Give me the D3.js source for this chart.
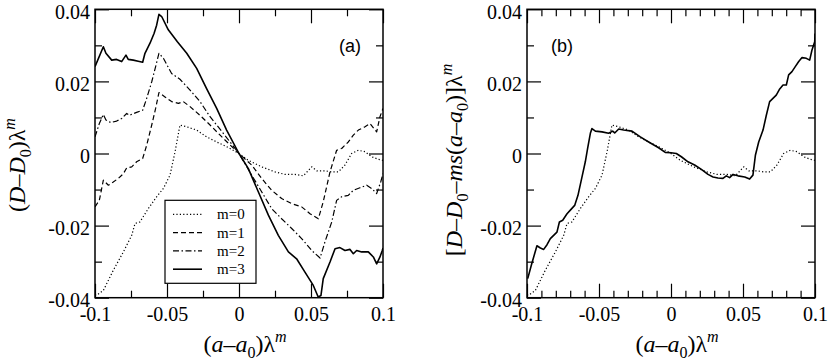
<!DOCTYPE html>
<html>
<head>
<meta charset="utf-8">
<script src="https://cdn.jsdelivr.net/npm/d3@7/dist/d3.min.js"></script>
<style>
body { margin: 0; background: #fff; }
svg { display: block; }
.tick text { font-family: "Liberation Serif", "Times New Roman", serif; font-size: 20px; fill: #000; }
.lbl { font-family: "Liberation Serif", "Times New Roman", serif; font-size: 24px; fill: #000; }
</style>
</head>
<body>
<svg id="fig" width="830" height="363"></svg>
<script>
// tick values
const xTicks = [-0.1, -0.05, 0, 0.05, 0.1]
const yTicks = [-0.04, -0.02, 0, 0.02, 0.04]
const legendNames = ['m=0', 'm=1', 'm=2', 'm=3']

// m=0 (dotted) - same curve in both panels
const m0 = [[-0.1,-0.0392],[-0.0988,-0.0393],[-0.0942,-0.038],[-0.0873,-0.0324],[-0.0803,-0.0273],[-0.0745,-0.0227],
  [-0.0722,-0.0194],[-0.0688,-0.019],[-0.063,-0.0153],[-0.0572,-0.012],[-0.0525,-0.0097],[-0.0479,-0.006],
  [-0.0444,0.0005],[-0.041,0.0079],[-0.0363,0.0074],[-0.0294,0.0065],[-0.0225,0.0046],[-0.0155,0.0032],
  [-0.0086,0.0019],[0,0],[0.0065,-0.0019],[0.0157,-0.0037],[0.025,-0.0051],[0.0319,-0.0058],[0.0389,-0.0058],
  [0.0447,-0.0062],[0.0505,-0.0037],[0.054,-0.0048],[0.0597,-0.0048],[0.0644,-0.0051],[0.069,-0.0051],
  [0.0736,-0.0032],[0.0782,0],[0.0829,0.0009],[0.0875,0.0005],[0.0921,-0.0009],[0.0967,-0.0016],[0.1,-0.0019]]

// m=1 (dashed)
const m1 = [[-0.1,-0.0148],[-0.097,-0.013],[-0.0942,-0.0074],[-0.0907,-0.0088],[-0.0873,-0.0079],[-0.0838,-0.0069],
  [-0.0803,-0.0056],[-0.078,-0.004],[-0.0745,-0.0037],[-0.0711,-0.0023],[-0.0669,-0.0014],[-0.0641,0.0023],
  [-0.0606,0.0079],[-0.0579,0.0125],[-0.0556,0.0169],[-0.0514,0.0157],[-0.0468,0.0144],[-0.0421,0.0139],
  [-0.0387,0.0144],[-0.034,0.013],[-0.0271,0.0106],[-0.0201,0.0079],[-0.0109,0.0042],[0,0],
  [0.0088,-0.0032],[0.0157,-0.0069],[0.0227,-0.0102],[0.0296,-0.0125],[0.0366,-0.0139],[0.0435,-0.0148],
  [0.0493,-0.0167],[0.0551,-0.0181],[0.0585,-0.0134],[0.0632,-0.0051],[0.0678,0.0009],[0.0713,0.0014],
  [0.0759,0.0032],[0.0794,0.0051],[0.0829,0.0065],[0.0875,0.0074],[0.091,0.0083],[0.094,0.0068],
  [0.0956,0.006],[0.0979,0.0102],[0.1,0.0125]]

// m=2 (dash-dot)
const m2 = [[-0.1,0.0046],[-0.097,0.0083],[-0.0942,0.0108],[-0.0924,0.0093],[-0.0891,0.0086],[-0.085,0.009],
  [-0.0815,0.0097],[-0.078,0.0111],[-0.0762,0.0106],[-0.0711,0.0114],[-0.0669,0.012],[-0.0641,0.0153],
  [-0.0606,0.0199],[-0.0579,0.0241],[-0.0556,0.0278],[-0.0525,0.0264],[-0.0468,0.0222],[-0.041,0.0206],
  [-0.034,0.0176],[-0.0271,0.0144],[-0.0201,0.0102],[-0.0109,0.0056],[0,0],[0.0088,-0.006],[0.0157,-0.0106],
  [0.0227,-0.0153],[0.0296,-0.0181],[0.0366,-0.0208],[0.0435,-0.0236],[0.0505,-0.0269],[0.0563,-0.029],
  [0.0597,-0.0245],[0.0644,-0.019],[0.0678,-0.013],[0.0713,-0.012],[0.0759,-0.0116],[0.0794,-0.0102],
  [0.084,-0.0095],[0.0887,-0.0088],[0.0921,-0.0097],[0.0956,-0.0111],[0.0984,-0.0079],[0.1,-0.0056]]

// m=3 (solid)
const m3 = [[-0.1,0.0241],[-0.0942,0.0296],[-0.0924,0.0278],[-0.0884,0.0259],[-0.085,0.0261],[-0.0815,0.0255],
  [-0.0785,0.0273],[-0.0769,0.0261],[-0.0734,0.0259],[-0.07,0.0256],[-0.0669,0.0253],[-0.0653,0.0278],
  [-0.0618,0.0306],[-0.059,0.0333],[-0.0572,0.0356],[-0.0556,0.0386],[-0.0537,0.038],[-0.0491,0.0343],
  [-0.0428,0.031],[-0.0363,0.0278],[-0.0294,0.0236],[-0.0225,0.018],[-0.0155,0.0125],[-0.0086,0.0065],
  [0,0],[0.0065,-0.0042],[0.0134,-0.0106],[0.0204,-0.0171],[0.0273,-0.0227],[0.0343,-0.0273],[0.04,-0.0292],
  [0.0458,-0.0329],[0.0516,-0.0366],[0.055,-0.0398],[0.0569,-0.0394],[0.0585,-0.0347],[0.0632,-0.0301],
  [0.0667,-0.0264],[0.0701,-0.0261],[0.0736,-0.0269],[0.0771,-0.0266],[0.0794,-0.0278],[0.0817,-0.0269],
  [0.0852,-0.0273],[0.0898,-0.0273],[0.0933,-0.0287],[0.0956,-0.0306],[0.0979,-0.0287],[0.0995,-0.0269],[0.1,-0.0262]]

// m=3 with the linear part removed (panel b, solid)
const m3b = [[-0.0995,-0.0347],[-0.097,-0.031],[-0.0947,-0.0278],[-0.0931,-0.0256],[-0.0907,-0.0262],[-0.0884,-0.0266],
  [-0.0861,-0.0253],[-0.0838,-0.0236],[-0.0815,-0.0227],[-0.0792,-0.0218],[-0.0775,-0.019],[-0.0752,-0.0185],
  [-0.0722,-0.0167],[-0.0699,-0.0157],[-0.0669,-0.0144],[-0.0646,-0.0116],[-0.0618,-0.0065],[-0.0595,-0.0023],
  [-0.0579,0.0014],[-0.056,0.0056],[-0.0549,0.0069],[-0.0525,0.0062],[-0.0479,0.006],[-0.0433,0.0056],
  [-0.0405,0.0062],[-0.0391,0.0057],[-0.0363,0.0068],[-0.0329,0.0065],[-0.0271,0.0062],[-0.0213,0.0046],
  [-0.0155,0.0032],[-0.0086,0.0016],[-0.004,0.0003],[0,0.0002],[0.0037,0],[0.0072,-0.0009],[0.0118,-0.0023],
  [0.0164,-0.0032],[0.0211,-0.0044],[0.0257,-0.0058],[0.0292,-0.0065],[0.0326,-0.0068],[0.0361,-0.0069],
  [0.0384,-0.0062],[0.0407,-0.0067],[0.0431,-0.0058],[0.0465,-0.0062],[0.0512,-0.0065],[0.0546,-0.0071],
  [0.0569,-0.006],[0.0586,-0.0005],[0.0609,0.0032],[0.0639,0.0065],[0.0662,0.0106],[0.0685,0.0144],
  [0.0708,0.0153],[0.0731,0.0162],[0.0755,0.0179],[0.0778,0.019],[0.0801,0.019],[0.0817,0.0218],
  [0.084,0.0227],[0.0863,0.0241],[0.0887,0.0255],[0.091,0.0266],[0.094,0.0264],[0.0963,0.0259],
  [0.0979,0.0287],[0.0998,0.031],[0.1,0.0333]]

const styles = {
	m0: { dash: '1.2,2.2', w: 1.2 },
	m1: { dash: '5,3', w: 1.2 },
	m2: { dash: '6,2.5,1.5,2.5', w: 1.2 },
	m3: { dash: null, w: 1.6 }
}

const svg = d3.select('#fig')
const W = 288, H = 288.4, T = 9.3

let fmt = d => d === 0 ? '0' : String(d)

function drawPanel(left, series, minorX, tag, tagX) {
	let x = d3.scaleLinear().domain([-0.1, 0.1]).range([0, W])
	let y = d3.scaleLinear().domain([-0.04, 0.04]).range([H, 0])
	let g = svg.append('g').attr('transform', `translate(${left},${T})`)

	g.append('clipPath').attr('id', 'clip' + tag)
		.append('rect').attr('width', W).attr('height', H)

	// minor ticks, all four sides
	let yMinor = [-0.03, -0.01, 0.01, 0.03]
	g.append('g').attr('transform', `translate(0,${H})`)
		.call(d3.axisBottom(x).tickValues(minorX).tickSize(-7).tickFormat(''))
	g.append('g').call(d3.axisTop(x).tickValues(minorX).tickSize(-7).tickFormat(''))
	g.append('g').call(d3.axisLeft(y).tickValues(yMinor).tickSize(-7).tickFormat(''))
	g.append('g').attr('transform', `translate(${W},0)`)
		.call(d3.axisRight(y).tickValues(yMinor).tickSize(-7).tickFormat(''))

	// major ticks with labels
	g.append('g').attr('transform', `translate(0,${H})`)
		.call(d3.axisBottom(x).tickValues(xTicks).tickSize(-14).tickPadding(9).tickFormat(fmt))
	g.append('g').call(d3.axisTop(x).tickValues(xTicks).tickSize(-14).tickFormat(''))
	g.append('g').call(d3.axisLeft(y).tickValues(yTicks).tickSize(-14).tickPadding(5).tickFormat(fmt))
		.selectAll('text').attr('dy', '0.45em')
	g.append('g').attr('transform', `translate(${W},0)`)
		.call(d3.axisRight(y).tickValues(yTicks).tickSize(-14).tickFormat(''))

	g.selectAll('.domain').remove()
	g.selectAll('.tick line').attr('stroke', '#000').attr('stroke-width', 1.2)
	g.selectAll('g').attr('font-family', null).attr('font-size', null)

	let line = d3.line().x(d => x(d[0])).y(d => y(d[1]))
	series.forEach(s => {
		g.append('path')
			.attr('d', line(s.data))
			.attr('clip-path', `url(#clip${tag})`)
			.attr('fill', 'none')
			.attr('stroke', '#000')
			.attr('stroke-width', styles[s.key].w)
			.attr('stroke-dasharray', styles[s.key].dash)
			.attr('stroke-linejoin', 'round')
	})

	g.append('rect').attr('width', W).attr('height', H)
		.attr('fill', 'none').attr('stroke', '#000').attr('stroke-width', 1.5)

	g.append('text').attr('x', tagX).attr('y', 43)
		.attr('font-family', '"Liberation Sans", Arial, sans-serif').attr('font-size', 18)
		.text(`(${tag})`)

	// x axis label
	let xl = svg.append('text').attr('class', 'lbl')
		.attr('x', left + W / 2 + 6).attr('y', 352).attr('text-anchor', 'middle')
	xl.append('tspan').text('(')
	xl.append('tspan').attr('font-style', 'italic').text('a')
	xl.append('tspan').text('\u2013')
	xl.append('tspan').attr('font-style', 'italic').text('a')
	xl.append('tspan').attr('font-size', 16).attr('dy', 6).text('0')
	xl.append('tspan').attr('dy', -6).text(')\u03bb')
	xl.append('tspan').attr('font-style', 'italic').attr('font-size', 16).attr('dy', -10).text('m')
	return g
}

let ga = drawPanel(95, [
	{ key: 'm0', data: m0 }, { key: 'm1', data: m1 }, { key: 'm2', data: m2 }, { key: 'm3', data: m3 }
], [-0.075, -0.025, 0.025, 0.075], 'a', 244)

let gb = drawPanel(527, [
	{ key: 'm0', data: m0 }, { key: 'm3', data: m3b }
], xTicks.slice(0, -1).flatMap(v => [1, 2, 3, 4].map(k => +(v + k * 0.01).toFixed(3))), 'b', 24)

// legend in panel a
let lg = ga.append('g').attr('transform', 'translate(70,191)')
lg.append('rect').attr('width', 91).attr('height', 83)
	.attr('fill', '#fff').attr('stroke', '#000').attr('stroke-width', 1.2)
legendNames.forEach((n, i) => {
	let key = 'm' + i
	lg.append('line').attr('x1', 8).attr('x2', 37).attr('y1', 14 + i * 18.3).attr('y2', 14 + i * 18.3)
		.attr('stroke', '#000').attr('stroke-width', styles[key].w).attr('stroke-dasharray', styles[key].dash)
	lg.append('text').attr('x', 52).attr('y', 19 + i * 18.3)
		.attr('font-family', '"Liberation Serif", serif').attr('font-size', 15).text(n)
})

// y axis labels (rotated)
let ya = svg.append('text').attr('class', 'lbl')
	.attr('transform', 'translate(25,165) rotate(-90)').attr('text-anchor', 'middle')
ya.append('tspan').text('(')
ya.append('tspan').attr('font-style', 'italic').text('D')
ya.append('tspan').text('\u2013')
ya.append('tspan').attr('font-style', 'italic').text('D')
ya.append('tspan').attr('font-size', 16).attr('dy', 6).text('0')
ya.append('tspan').attr('dy', -6).text(')\u03bb')
ya.append('tspan').attr('font-style', 'italic').attr('font-size', 16).attr('dy', -10).text('m')

let yb = svg.append('text').attr('class', 'lbl')
	.attr('transform', 'translate(462,160) rotate(-90)').attr('text-anchor', 'middle')
yb.append('tspan').text('[')
yb.append('tspan').attr('font-style', 'italic').text('D')
yb.append('tspan').text('\u2013')
yb.append('tspan').attr('font-style', 'italic').text('D')
yb.append('tspan').attr('font-size', 16).attr('dy', 6).text('0')
yb.append('tspan').attr('dy', -6).text('\u2013')
yb.append('tspan').attr('font-style', 'italic').text('ms')
yb.append('tspan').text('(')
yb.append('tspan').attr('font-style', 'italic').text('a')
yb.append('tspan').text('\u2013')
yb.append('tspan').attr('font-style', 'italic').text('a')
yb.append('tspan').attr('font-size', 16).attr('dy', 6).text('0')
yb.append('tspan').attr('dy', -6).text(')]\u03bb')
yb.append('tspan').attr('font-style', 'italic').attr('font-size', 16).attr('dy', -10).text('m')
</script>
</body>
</html>
